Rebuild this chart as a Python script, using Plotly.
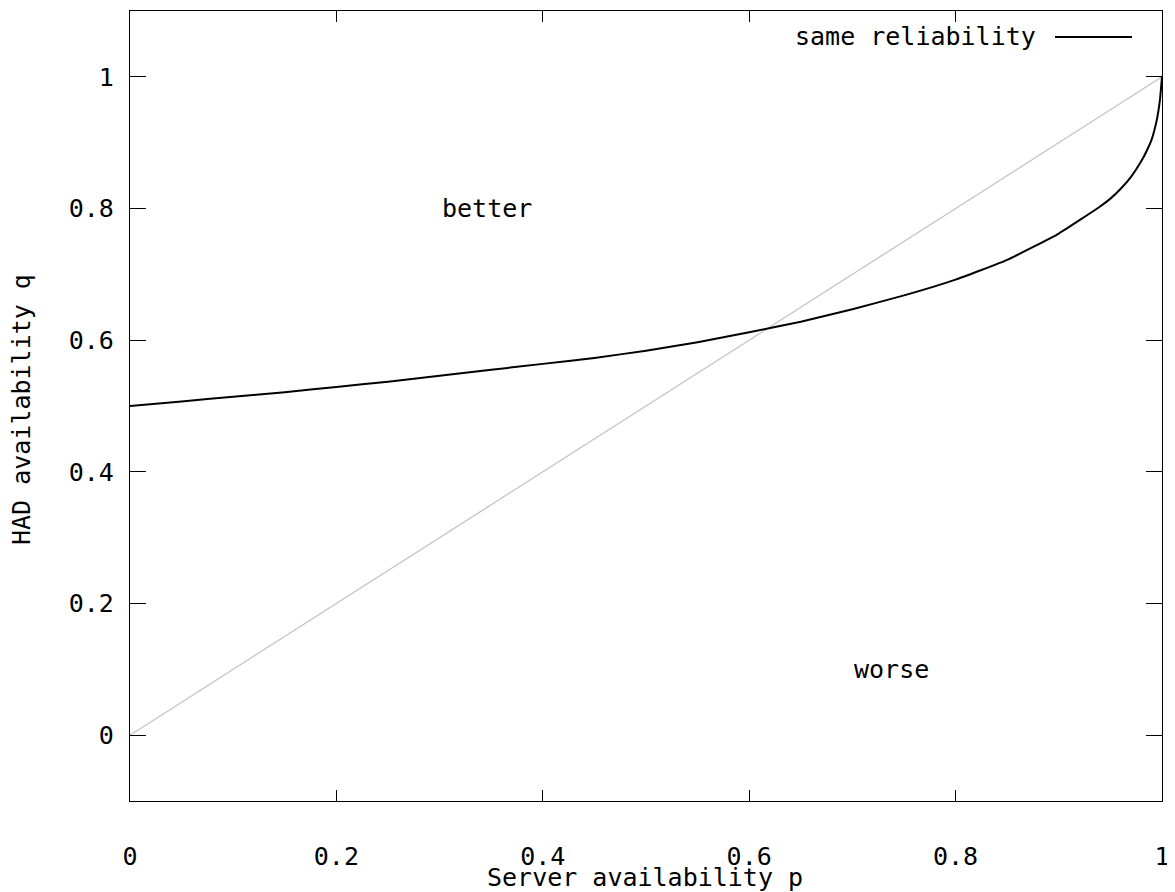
import plotly.graph_objects as go

# Server availability p and HAD availability q giving the same reliability
p_vals = [0.0, 0.05, 0.10, 0.15, 0.20, 0.25, 0.30, 0.35, 0.40, 0.45, 0.50, 0.55, 0.60,
          0.65, 0.70, 0.75, 0.80, 0.85, 0.90, 0.94, 0.95, 0.96, 0.97, 0.98, 0.985,
          0.99, 0.995, 0.998, 1.0]
q_vals = [0.500, 0.507, 0.514, 0.521, 0.529, 0.537, 0.546, 0.555, 0.564, 0.573, 0.584,
          0.597, 0.612, 0.628, 0.647, 0.668, 0.692, 0.722, 0.762, 0.803, 0.815, 0.830,
          0.848, 0.872, 0.887, 0.905, 0.935, 0.965, 1.000]

# reference diagonal q = p
diag_p = [0.0, 1.0]
diag_q = [0.0, 1.0]

x_ticks = [0, 0.2, 0.4, 0.6, 0.8, 1]
x_labels = ["0", "0.2", "0.4", "0.6", "0.8", "1"]
y_ticks = [0, 0.2, 0.4, 0.6, 0.8, 1]
y_labels = ["0", "0.2", "0.4", "0.6", "0.8", "1"]

FONT = "DejaVu Sans Mono"
FS = 25

W, H = 1167, 884
ML, MR, MT, MB = 122, 13, 3, 91
PW, PH = W - ML - MR, H - MT - MB
OFF = 8  # page body margin


def px(sx, sy):
    """screen pixel -> paper fraction"""
    return (sx - OFF - ML) / PW, 1 - (sy - OFF - MT) / PH


fig = go.Figure()
fig.add_trace(go.Scatter(x=diag_p, y=diag_q, mode="lines",
                         line=dict(color="#c4c4c4", width=1.3), showlegend=False,
                         hoverinfo="skip"))
fig.add_trace(go.Scatter(x=p_vals, y=q_vals, mode="lines", name="same reliability",
                         line=dict(color="black", width=2, shape="spline", smoothing=0.4),
                         showlegend=False))

axis_common = dict(showline=True, linecolor="black", linewidth=1.3, mirror="allticks",
                   ticks="inside", tickcolor="black", tickwidth=1.3,
                   showgrid=False, zeroline=False,
                   tickfont=dict(family=FONT, size=FS, color="black"))

ann = [
    dict(x=0.3, y=0.8, xref="x", yref="y", text="better", showarrow=False,
         xanchor="left", yanchor="middle", font=dict(family=FONT, size=FS)),
    dict(x=0.7, y=0.1, xref="x", yref="y", text="worse", showarrow=False,
         xanchor="left", yanchor="middle", font=dict(family=FONT, size=FS)),
]
for text, sx, sy, xa, ang in [("Server availability p", 645, 877, "center", 0),
                              ("HAD availability q", 21, 410, "center", -90),
                              ("same reliability", 1038, 37, "right", 0)]:
    x, y = px(sx, sy)
    ann.append(dict(x=x, y=y, xref="paper", yref="paper", text=text, showarrow=False,
                    xanchor=xa, yanchor="middle", textangle=ang,
                    font=dict(family=FONT, size=FS)))

fig.update_layout(
    width=W, height=H,
    margin=dict(l=ML, r=MR, t=MT, b=MB, autoexpand=False),
    paper_bgcolor="white", plot_bgcolor="white",
    font=dict(family=FONT, size=FS, color="black"),
    xaxis=dict(range=[0, 1], tickvals=x_ticks, ticktext=x_labels, ticklen=11,
               ticklabelstandoff=33, automargin=False, **axis_common),
    yaxis=dict(range=[-0.1, 1.1], tickvals=y_ticks, ticktext=y_labels, ticklen=16,
               ticklabelstandoff=10, automargin=False, **axis_common),
    annotations=ann,
)

# legend sample line
x0, y0 = px(1055, 37)
x1, _ = px(1132, 37)
fig.add_shape(type="line", xref="paper", yref="paper", x0=x0, x1=x1, y0=y0, y1=y0,
              line=dict(color="black", width=2))

fig.write_html("out.html")
